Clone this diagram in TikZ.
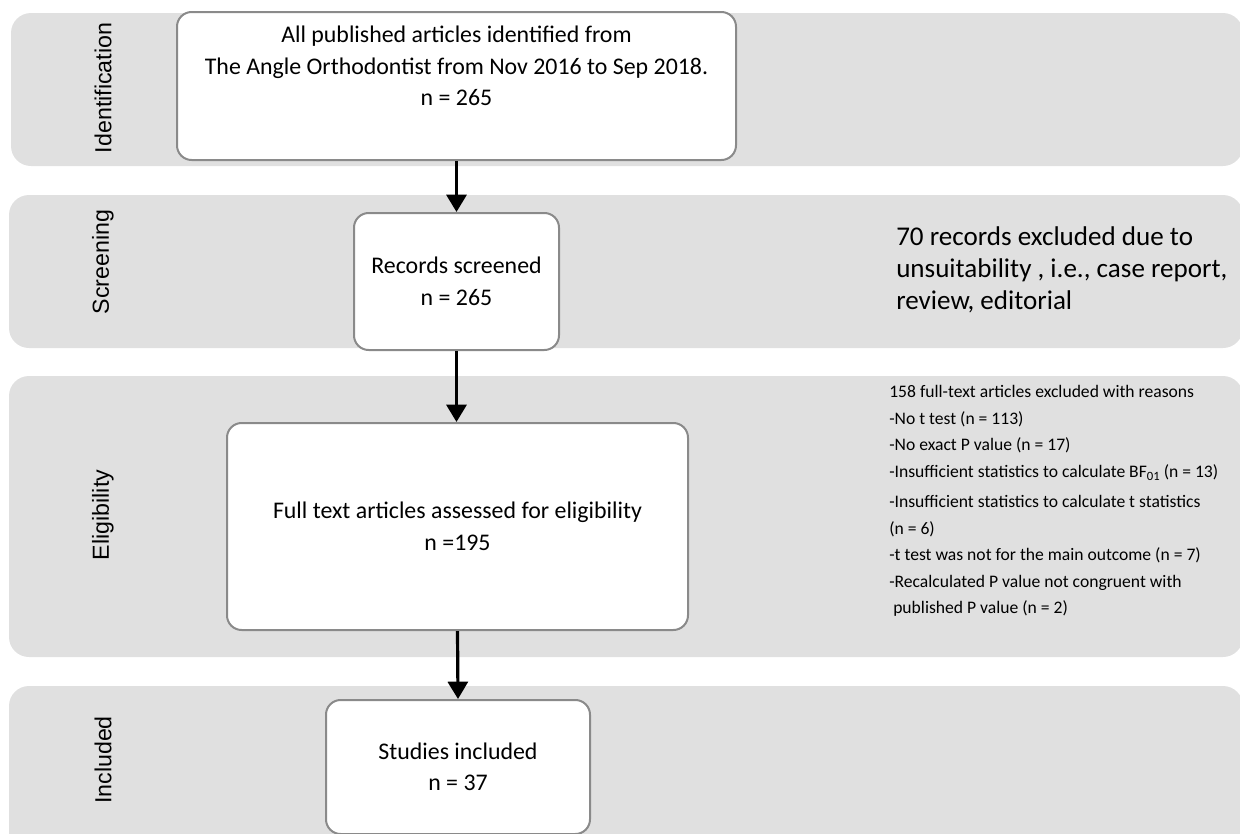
\documentclass[tikz,border=0pt]{standalone}
\usepackage{fontspec}
\setmainfont{Carlito}
\newfontfamily\arialfont{Liberation Sans}
\usetikzlibrary{arrows.meta}

\tikzset{
  band/.style={fill=bandgray, draw=none, rounded corners=15pt},
  box/.style={draw=boxgray, line width=1.5pt, fill=white, rounded corners=11pt, align=center, inner sep=0pt},
  boxtext/.style={align=center, font=\fontsize{17.9}{23.6}\selectfont},
  phase/.style={rotate=90, font=\arialfont\fontsize{17.4}{19}\selectfont},
  flow/.style={line width=2.4pt, -{Triangle[width=15pt,length=13pt]}},
}
\definecolor{bandgray}{RGB}{224,224,224}
\definecolor{boxgray}{RGB}{138,138,138}
\newcommand{\lowsub}[1]{\raisebox{-0.45ex}{\fontsize{9.5}{9.5}\selectfont #1}}

\begin{document}
\begin{tikzpicture}[x=0.75pt,y=0.75pt,yscale=-1,xscale=1]
%set diagram to 1240 x 833
\useasboundingbox (0,0) rectangle (1240,833);
\clip (0,0) rectangle (1240,833);

%Shape: Bands
\fill[band] (11,13) rectangle (1243,166);
\fill[band] (9,195) rectangle (1243,348);
\fill[band] (9,376) rectangle (1243,657);
\fill[band] (9,686) rectangle (1243,870);

% Phase labels
\node[phase] (lident) at (103,88) {Identification};
\node[phase] (lscreen) at (103,262) {Screening};
\node[phase] (lelig) at (103,515) {Eligibility};
\node[phase] (lincl) at (103,760) {Included};

%Shape: Boxes
\node[box, minimum width=419.25pt, minimum height=111pt] (ident) at (456.5,86) {};
\node[boxtext] (identtext) at (456.5,66)
  {All published articles identified from\\The Angle Orthodontist from Nov 2016 to Sep 2018.\\n = 265};
\node[box, boxtext, minimum width=153.75pt, minimum height=102.75pt] (screen) at (456.5,281.5)
  {Records screened\\n = 265};
\node[box, boxtext, minimum width=345.75pt, minimum height=155.25pt] (elig) at (457.5,526.5)
  {Full text articles assessed for eligibility\\n =195};
\node[box, boxtext, minimum width=198pt, minimum height=100.5pt] (incl) at (458,767)
  {Studies included\\n = 37};

% Text Node: exclusions
\node[anchor=north west, inner sep=0pt, align=left, font=\fontsize{20.3}{24}\selectfont] (excl1) at (896,226)
  {70 records excluded due to\\unsuitability , i.e., case report,\\review, editorial};
\node[anchor=north west, inner sep=0pt, align=left, font=\fontsize{13.2}{19.9}\selectfont] (excl2) at (889,385)
  {158 full-text articles excluded with reasons\\
   -No t test (n = 113)\\
   -No exact P value (n = 17)\\
   -Insufficient statistics to calculate BF\lowsub{01} (n = 13)\\[3pt]
   -Insufficient statistics to calculate t statistics\\
   (n = 6)\\
   -t test was not for the main outcome (n = 7)\\
   -Recalculated P value not congruent with\\
   \ published P value (n = 2)};

%Straight Lines: arrows
\draw[flow] (ident.south) -- (screen.north);
\draw[flow] (screen.south) -- (screen.south |- elig.north);
\draw[flow] (elig.south) -- (incl.north);

\end{tikzpicture}
\end{document}
